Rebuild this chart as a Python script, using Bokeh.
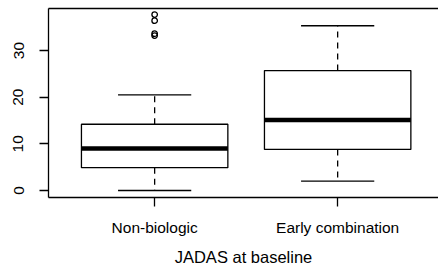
import numpy as np
from bokeh.plotting import figure
from bokeh.models import Range1d, FixedTicker, LinearAxis
from bokeh.embed import file_html
from bokeh.resources import INLINE

# ---- data ----
categories = ["Non-biologic", "Early combination"]
positions = [1, 2]
q1 = [4.9, 8.8]
median = [9.0, 15.1]
q3 = [14.2, 25.7]
whisker_low = [0.0, 2.0]
whisker_high = [20.5, 35.3]
outlier_group = [1, 1, 1, 1]
outlier_values = [37.7, 36.4, 33.6, 33.2]
y_ticks = [0, 10, 20, 30]

FONT = "Liberation Sans"
LW = 1.3

p = figure(width=438, height=268, output_backend="svg", toolbar_location=None,
           x_range=Range1d(0.42, 2.551), y_range=Range1d(-1.5, 39),
           min_border_left=48, min_border_right=0, min_border_top=8, min_border_bottom=70,
           x_axis_location=None, y_axis_location=None)
p.xgrid.visible = False
p.ygrid.visible = False
p.outline_line_color = None
p.background_fill_color = "white"
p.border_fill_color = "white"

x = np.array(positions, dtype=float)
hw = 0.4
cw = 0.2

# whiskers (dashed)
p.segment(x0=x, x1=x, y0=q3, y1=whisker_high, line_color="black", line_width=LW, line_dash="6 5")
p.segment(x0=x, x1=x, y0=q1, y1=whisker_low, line_color="black", line_width=LW, line_dash="6 5")
# caps
p.segment(x0=x - cw, x1=x + cw, y0=whisker_high, y1=whisker_high, line_color="black", line_width=LW)
p.segment(x0=x - cw, x1=x + cw, y0=whisker_low, y1=whisker_low, line_color="black", line_width=LW)
# boxes
p.quad(left=x - hw, right=x + hw, bottom=q1, top=q3, fill_color="white", line_color="black", line_width=LW)
# medians
p.segment(x0=x - hw, x1=x + hw, y0=median, y1=median, line_color="black", line_width=4.5, line_cap="butt")
# outliers
p.scatter(x=outlier_group, y=outlier_values, marker="circle", size=5.5,
          fill_color=None, line_color="black", line_width=LW)

# left axis
yax = LinearAxis(ticker=FixedTicker(ticks=y_ticks))
yax.major_label_orientation = "vertical"
yax.major_tick_out = 9
yax.major_tick_in = 0
yax.minor_tick_line_color = None
yax.major_label_standoff = 16
yax.major_label_text_font = FONT
yax.major_label_text_font_size = "15.5px"
yax.major_label_text_color = "black"
yax.axis_line_color = "black"
yax.axis_line_width = LW
yax.major_tick_line_color = "black"
yax.major_tick_line_width = LW
p.add_layout(yax, "left")

# bottom axis
xax = LinearAxis(ticker=FixedTicker(ticks=positions))
xax.major_label_overrides = {pos: lab for pos, lab in zip(positions, categories)}
xax.major_tick_out = 9
xax.major_tick_in = 0
xax.minor_tick_line_color = None
xax.major_label_standoff = 12
xax.major_label_text_font = FONT
xax.major_label_text_font_size = "15.5px"
xax.major_label_text_color = "black"
xax.axis_line_color = "black"
xax.axis_line_width = LW
xax.major_tick_line_color = "black"
xax.major_tick_line_width = LW
xax.axis_label = "JADAS at baseline"
xax.axis_label_text_font = FONT
xax.axis_label_text_font_size = "16.5px"
xax.axis_label_text_font_style = "normal"
xax.axis_label_text_color = "black"
xax.axis_label_standoff = 9
p.add_layout(xax, "below")

# top frame line
tax = LinearAxis(ticker=FixedTicker(ticks=[]))
tax.major_tick_out = 0
tax.major_tick_in = 0
tax.minor_tick_line_color = None
tax.major_label_standoff = 0
tax.major_label_text_font_size = "0px"
tax.axis_line_color = "black"
tax.axis_line_width = LW
p.add_layout(tax, "above")

open("out.html", "w").write(file_html(p, INLINE))
